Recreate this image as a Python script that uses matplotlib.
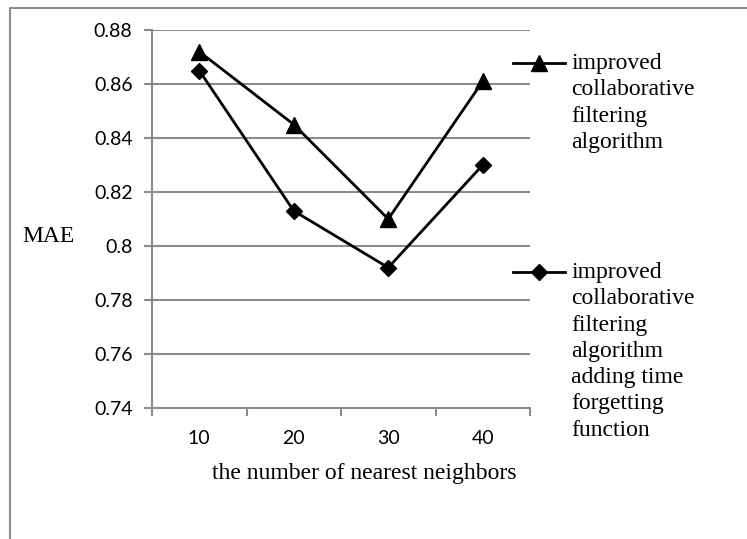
import matplotlib
matplotlib.use("Agg")
import matplotlib.pyplot as plt
from matplotlib.lines import Line2D

# 近邻数与两种算法的MAE
neighbors = ["10", "20", "30", "40"]
mae_improved = [0.872, 0.845, 0.810, 0.861]
mae_time = [0.865, 0.813, 0.792, 0.830]
labels = ["improved\ncollaborative\nfiltering\nalgorithm",
          "improved\ncollaborative\nfiltering\nalgorithm\nadding time\nforgetting\nfunction"]

W, H = 747, 539
fig = plt.figure(figsize=(W / 100, H / 100), dpi=100)
ax = fig.add_axes([152 / W, 1 - 408 / H, (530 - 152) / W, (408 - 30) / H])

grey = "#8c8c8c"
x = range(len(neighbors))
ax.plot(x, mae_improved, color="black", lw=2, marker="^", ms=11)
ax.plot(x, mae_time, color="black", lw=2, marker="D", ms=8)

ax.set_xlim(-0.5, len(neighbors) - 0.5)
ax.set_ylim(0.74, 0.88)
ax.set_yticks([0.74 + 0.02 * i for i in range(8)])
ax.set_yticklabels(["0.74", "0.76", "0.78", "0.8", "0.82", "0.84", "0.86", "0.88"],
                   family="Lato", fontsize=14)
ax.set_xticks([i - 0.5 for i in range(len(neighbors) + 1)], minor=False)
ax.set_xticklabels([""] * (len(neighbors) + 1))
ax.set_xticks(list(x), minor=True)
ax.set_xticklabels(neighbors, minor=True, family="Lato", fontsize=14)
ax.tick_params(axis="x", which="minor", length=0, pad=16)
ax.tick_params(axis="x", which="major", length=6, color=grey, width=1.5)
ax.tick_params(axis="y", length=6, color=grey, width=1.5, pad=8)
ax.grid(axis="y", color=grey, lw=1.5)
ax.set_axisbelow(True)
for s in ["top", "right"]:
    ax.spines[s].set_visible(False)
for s in ["left", "bottom"]:
    ax.spines[s].set_color(grey)
    ax.spines[s].set_linewidth(1.5)

ax.set_xlabel("the number of nearest neighbors", family="Liberation Serif",
              fontsize=17)
ax.xaxis.set_label_coords(364 / W, 1 - 473 / H, transform=fig.transFigure)
ax.xaxis.label.set_va("center")
fig.text(22 / W, 1 - 236 / H, "MAE", family="Liberation Serif", fontsize=17,
         va="center", ha="left")

# 图例手动绘制
for y0, mk, ms, lab in [(63, "^", 11, labels[0]), (272, "D", 8, labels[1])]:
    fig.add_artist(Line2D([513 / W, 565 / W], [1 - y0 / H] * 2, color="black", lw=2))
    fig.add_artist(Line2D([539 / W], [1 - y0 / H], color="black", marker=mk, ms=ms))
    fig.text(571 / W, 1 - (y0 - 10) / H, lab, family="Liberation Serif",
             fontsize=17, va="top", ha="left", linespacing=1.33)

# 外框
fig.add_artist(Line2D([10 / W, 10 / W, 1], [0, 1 - 8 / H, 1 - 8 / H], color=grey, lw=1.5))

fig.savefig("out.png", dpi=100)
